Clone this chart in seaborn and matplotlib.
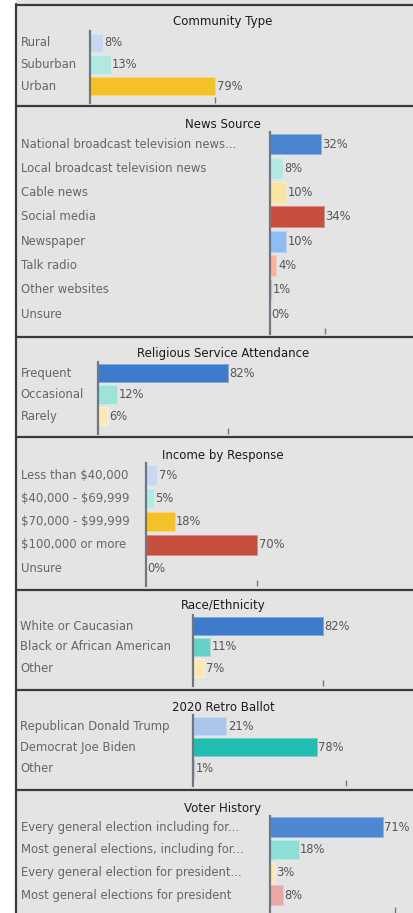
import numpy as np
import pandas as pd
import seaborn as sns
import matplotlib.pyplot as plt
from matplotlib.patches import Rectangle
from matplotlib.lines import Line2D

# ---- data ----
community_labels = ["Rural", "Suburban", "Urban"]
community_values = [8, 13, 79]
community_colors = ["#c8d8f0", "#b2e8e2", "#f4c228"]

news_labels = ["National broadcast television news...", "Local broadcast television news",
               "Cable news", "Social media", "Newspaper", "Talk radio",
               "Other websites", "Unsure"]
news_values = [32, 8, 10, 34, 10, 4, 1, 0]
news_colors = ["#4a85d0", "#b5e8e3", "#fbe3a2", "#c64f40", "#8ebdf6", "#f7b49b",
               "#c8c8c8", "#c8c8c8"]

religion_labels = ["Frequent", "Occasional", "Rarely"]
religion_values = [82, 12, 6]
religion_colors = ["#3d7bcb", "#9ce3dc", "#fde9b8"]

income_labels = ["Less than $40,000", "$40,000 - $69,999", "$70,000 - $99,999",
                 "$100,000 or more", "Unsure"]
income_values = [7, 5, 18, 70, 0]
income_colors = ["#c8d8f0", "#b2eae4", "#f4c228", "#c64f40", "#c8c8c8"]

race_labels = ["White or Caucasian", "Black or African American", "Other"]
race_values = [82, 11, 7]
race_colors = ["#3d7bcb", "#65d1c8", "#fde8b5"]

ballot_labels = ["Republican Donald Trump", "Democrat Joe Biden", "Other"]
ballot_values = [21, 78, 1]
ballot_colors = ["#a9c6ec", "#22bdb0", "#c8c8c8"]

voter_labels = ["Every general election including for...",
                "Most general elections, including for...",
                "Every general election for president...",
                "Most general elections for president"]
voter_values = [71, 18, 3, 8]
voter_colors = ["#4f88d2", "#8edfd7", "#fde8b5", "#e8a8a5"]

titles = ["Community Type", "News Source", "Religious Service Attendance",
          "Income by Response", "Race/Ethnicity", "2020 Retro Ballot", "Voter History"]

# ---- layout in pixels: zero x, axis top, axis bottom, first row centre, row step, title y, tick value
W, H = 413, 913
layout = [
    (90, 31, 103, 43, 21.5, 22, 79),
    (270, 132, 334, 144, 24.3, 124, 35),
    (98, 362, 434, 373, 21.5, 353, 82),
    (146, 463, 586, 475, 23.25, 455, 70),
    (193, 615, 686, 626, 21.0, 606, 82),
    (193, 715, 786, 726, 21.0, 707, 96.5),
    (270, 816, 913, 827, 22.7, 808, 79),
]
separators = [5, 106.5, 337, 437, 589.5, 689.5, 789.5]
px_per_pct = 1.585

sns.set_style("white")
plt.rcParams["font.family"] = ["DejaVu Sans"]

fig = plt.figure(figsize=(W / 100, H / 100), dpi=100)
fig.patch.set_facecolor("white")

# gray panel background + borders
fig.add_artist(Rectangle((16 / W, 0), 1 - 16 / W, 1, transform=fig.transFigure,
                         facecolor="#e4e4e4", edgecolor="none", zorder=-5))
for y in separators:
    fig.add_artist(Line2D([16 / W, 1], [1 - y / H, 1 - y / H], transform=fig.transFigure,
                          color="#3a3a3a", lw=1.6, zorder=-4))
fig.add_artist(Line2D([16 / W, 16 / W], [0, 1 - 4 / H], transform=fig.transFigure,
                      color="#3a3a3a", lw=1.6, zorder=-4))

panels = [
    (community_labels, community_values, community_colors),
    (news_labels, news_values, news_colors),
    (religion_labels, religion_values, religion_colors),
    (income_labels, income_values, income_colors),
    (race_labels, race_values, race_colors),
    (ballot_labels, ballot_values, ballot_colors),
    (voter_labels, voter_values, voter_colors),
]

for (labels, values, colors), title, (x0, top, bot, c0, step, ty, tick) in zip(panels, titles, layout):
    ax = fig.add_axes([x0 / W, 1 - bot / H, (W - x0) / W, (bot - top) / H])
    ax.set_facecolor("none")
    df = pd.DataFrame({"label": labels, "value": values})
    sns.barplot(data=df, x="value", y="label", hue="label",
                palette=dict(zip(labels, colors)), legend=False, saturation=1,
                width=0.86, orient="h", ax=ax)
    # light rim round each bar like the original
    for p in ax.patches:
        fc = np.array(p.get_facecolor()[:3])
        p.set_edgecolor(fc + (1 - fc) * 0.35)
        p.set_linewidth(0.7)
    ax.set_xlim(0, (W - x0) / px_per_pct)
    ax.set_ylim((bot - c0) / step, -(c0 - top) / step)
    for c in ax.containers:
        ax.bar_label(c, fmt="%g%%", padding=1.2, fontsize=8.3, color="#555555")
    ax.set_xlabel("")
    ax.set_ylabel("")
    # dollar signs must not switch on mathtext
    ax.set_yticks(range(len(labels)), [l.replace("$", r"\$") for l in labels])
    for s in ["top", "right", "bottom"]:
        ax.spines[s].set_visible(False)
    ax.spines["left"].set_color("#6f7780")
    ax.spines["left"].set_linewidth(1.6)
    ax.set_xticks([tick])
    ax.set_xticklabels([""])
    ax.tick_params(axis="x", bottom=True, direction="in", length=4, width=1,
                   color="#777777")
    ax.tick_params(axis="y", left=True, length=0, pad=(x0 - 20.5) * 0.72,
                   labelsize=8.4, labelcolor="#666666")
    for t in ax.get_yticklabels():
        t.set_horizontalalignment("left")
        t.set_verticalalignment("center")
    fig.text(223 / W, 1 - ty / H, title, ha="center", va="center",
             fontsize=8.5, color="#1a1a1a")

fig.savefig("out.png", dpi=100)
